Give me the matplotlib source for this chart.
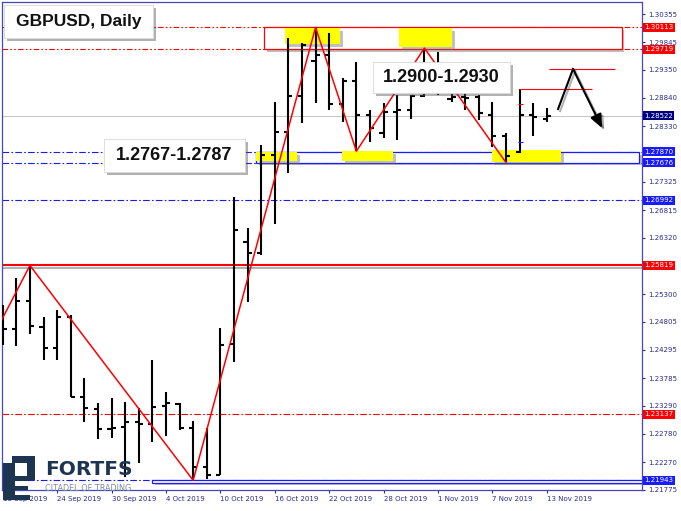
import matplotlib
matplotlib.use('Agg')
import matplotlib.pyplot as plt
import matplotlib.patheffects as pe
import matplotlib.transforms as mtransforms
from matplotlib.patches import Rectangle

# GBPUSD diario, 18 Sep 2019 - 13 Nov 2019 (una barra por dia habil)
opens = [1.24799, 1.24672, 1.25178, 1.24709, 1.24330, 1.24889, 1.23446, 1.23229, 1.22868, 1.22905,
         1.22995, 1.22959, 1.23283, 1.23319, 1.22886, 1.22183, 1.22039, 1.24402, 1.26242, 1.26043,
         1.27811, 1.28226, 1.28876, 1.29507, 1.29615, 1.28731, 1.29146, 1.28533, 1.28208, 1.28587,
         1.28623, 1.28870, 1.29200, 1.28822, 1.28858, 1.28858, 1.28533, 1.28154, 1.27866, 1.28533,
         1.28461]
highs = [1.25105, 1.25592, 1.25819, 1.24889, 1.25015, 1.24925, 1.23788, 1.23337, 1.23428, 1.23356,
         1.23247, 1.24113, 1.23536, 1.23337, 1.23013, 1.22886, 1.24690, 1.27054, 1.26494, 1.27992,
         1.28768, 1.29922, 1.29832, 1.30113, 1.30012, 1.29200, 1.29489, 1.28623, 1.28749, 1.28894,
         1.28900, 1.29706, 1.29670, 1.29000, 1.28930, 1.28894, 1.28768, 1.28208, 1.29002, 1.28749,
         1.28659]
lows = [1.24384, 1.24366, 1.24582, 1.24113, 1.24113, 1.23446, 1.22995, 1.22688, 1.22706, 1.22003,
        1.22255, 1.22634, 1.22742, 1.22850, 1.21943, 1.21960, 1.22030, 1.24077, 1.25160, 1.26007,
        1.26567, 1.27487, 1.28389, 1.28749, 1.28623, 1.28407, 1.27890, 1.28046, 1.28118, 1.28082,
        1.28461, 1.28860, 1.28900, 1.28768, 1.28623, 1.28443, 1.27956, 1.27685, 1.27847, 1.28154,
        1.28407]
closes = [1.24672, 1.25178, 1.24727, 1.24330, 1.24889, 1.23446, 1.23247, 1.22868, 1.22886, 1.22995,
          1.22959, 1.23265, 1.23337, 1.22886, 1.22183, 1.22030, 1.24384, 1.26458, 1.26043, 1.27811,
          1.28226, 1.28876, 1.29800, 1.29615, 1.28731, 1.29146, 1.28533, 1.28298, 1.28587, 1.28623,
          1.28870, 1.29200, 1.29000, 1.28858, 1.28840, 1.28569, 1.28154, 1.27793, 1.28533, 1.28497,
          1.28522]

date_ticks = list(range(0, 41, 4))
date_labels = ['18 Sep 2019', '24 Sep 2019', '30 Sep 2019', '4 Oct 2019', '10 Oct 2019',
               '16 Oct 2019', '22 Oct 2019', '28 Oct 2019', '1 Nov 2019', '7 Nov 2019', '13 Nov 2019']

price_ticks = [1.30355, 1.29845, 1.29350, 1.28840, 1.28330, 1.27820, 1.27325, 1.26815, 1.26320,
               1.25810, 1.25300, 1.24805, 1.24295, 1.23785, 1.23290, 1.22780, 1.22270, 1.21775]
# etiquetas tapadas por las cajas de nivel en el original
hidden_ticks = [1.27820, 1.25810]

# niveles marcados en el eje
red_levels = [1.30113, 1.29719, 1.25819, 1.23137]
blue_levels = [1.27870, 1.27676, 1.26992, 1.21943]
bid = 1.28522

# zigzag (barra, precio)
zz_bar = [-0.5, 2, 14, 23, 26, 31, 37]
zz_price = [1.24637, 1.25819, 1.21943, 1.30113, 1.27880, 1.29740, 1.27676]

# proyeccion
target_levels = [1.29360, 1.29000]
arrow_bar = [40.83, 41.93, 44.07]
arrow_price = [1.28641, 1.29363, 1.28299]

W, H = 681, 511
NAVY = '#2b2b8c'
RED = '#ff0000'
BLUE = '#1a1aff'

fig = plt.figure(figsize=(W / 100, H / 100), dpi=100)
ax = fig.add_axes([1.5 / W, (H - 490) / H, (642 - 1.5) / W, (490 - 2) / H])
ax.set_xlim(-0.09, 47.0)
ax.set_ylim(1.21768, 1.305715)

for s in ax.spines.values():
    s.set_color('#4646c0')
    s.set_linewidth(0.9)

ax.set_xticks(date_ticks)
ax.set_xticklabels(date_labels)
plt.setp(ax.get_xticklabels(), ha='left')
ax.set_yticks(price_ticks)
ax.set_yticklabels(['' if p in hidden_ticks else f'{p:.5f}' for p in price_ticks])
ax.yaxis.tick_right()
ax.tick_params(axis='both', length=2.5, color=NAVY, labelcolor=NAVY, labelsize=5, pad=2)

line_shadow = [pe.SimpleLineShadow(offset=(1.5, -1.5), alpha=0.3), pe.Normal()]
patch_shadow = [pe.SimplePatchShadow(offset=(2, -2), shadow_rgbFace='#666666', alpha=0.4), pe.Normal()]

# lineas horizontales
ax.axhline(bid, color='#c4c4c4', lw=0.7, zorder=1)
ax.axhline(1.25819, color=RED, lw=1.5, zorder=2, path_effects=line_shadow)
ax.axhline(1.23137, color=RED, lw=0.8, ls=(0, (6, 2, 1.5, 2)), zorder=1)
for lv in [1.30113, 1.29719]:
    ax.axhline(lv, color=RED, lw=0.8, ls=(0, (5, 2, 1.5, 2, 1.5, 2)), zorder=1)
for lv in [1.27870, 1.27676, 1.26992, 1.21943]:
    ax.axhline(lv, color=BLUE, lw=0.8, ls=(0, (6, 2, 1.5, 2)), zorder=1)

# zonas
ax.add_patch(Rectangle((19.21, 1.29719), 45.5 - 19.21, 1.30113 - 1.29719, fc='white', ec=RED,
                       lw=0.9, zorder=1.5, path_effects=patch_shadow))
ax.add_patch(Rectangle((18.63, 1.27676), 46.8 - 18.63, 1.27870 - 1.27676, fc='white', ec=BLUE,
                       lw=0.9, zorder=1.5, path_effects=patch_shadow))
ax.add_patch(Rectangle((10.98, 1.21902), 48 - 10.98, 1.21943 - 1.21902, fc='white', ec=BLUE,
                       lw=0.9, zorder=1.5, path_effects=patch_shadow))

yellow = [(20.76, 24.80, 1.29815, 1.30100), (29.14, 33.04, 1.29760, 1.30103),
          (24.95, 28.70, 1.27703, 1.27884), (35.98, 41.05, 1.27685, 1.27902),
          (18.63, 21.64, 1.27703, 1.27866)]
for x0, x1, y0, y1 in yellow:
    ax.add_patch(Rectangle((x0, y0), x1 - x0, y1 - y0, fc='#ffff00', ec='none', zorder=2,
                           path_effects=patch_shadow))

# barras OHLC
idx = list(range(len(opens)))
ax.vlines(idx, lows, highs, color='black', lw=1.5, zorder=3)
ax.hlines(opens, [i - 0.3 for i in idx], idx, color='black', lw=1.5, zorder=3)
ax.hlines(closes, idx, [i + 0.3 for i in idx], color='black', lw=1.5, zorder=3)
ax.hlines(1.28731, 37.85, 38.25, color=RED, lw=0.8, zorder=3)
ax.hlines(1.28046, 37.85, 38.25, color=BLUE, lw=0.8, zorder=3)

ax.plot(zz_bar, zz_price, color=RED, lw=1.1, zorder=4)

# proyeccion
ax.hlines(target_levels[0], 40.17, 45.0, color=RED, lw=0.8, zorder=4)
ax.hlines(target_levels[1], 37.96, 43.33, color=RED, lw=0.8, zorder=4)
ax.plot(arrow_bar[:2], arrow_price[:2], color='black', lw=1.5, zorder=4, path_effects=line_shadow)
ax.annotate('', xy=(arrow_bar[2], arrow_price[2]), xytext=(arrow_bar[1], arrow_price[1]),
            arrowprops=dict(arrowstyle='-|>,head_length=0.8,head_width=0.35', color='black', lw=1.5,
                            shrinkA=0, shrinkB=0, path_effects=line_shadow), zorder=4)

# etiquetas de precio en el eje
trans = mtransforms.blended_transform_factory(ax.transAxes, ax.transData)
labels = [(p, RED) for p in red_levels] + [(p, BLUE) for p in blue_levels] + [(bid, '#000080')]
for p, c in labels:
    ax.text(1.0035, p, f'{p:.5f}', transform=trans, ha='left', va='center', fontsize=5,
            color='white', clip_on=False, zorder=6,
            bbox=dict(boxstyle='square,pad=0.2', fc=c, ec='none'))


def text_box(x0, y0, x1, y1, txt, size):
    r = Rectangle((x0 / W, 1 - y1 / H), (x1 - x0) / W, (y1 - y0) / H, transform=fig.transFigure,
                  fc='white', ec='#d8d8d8', lw=0.6, zorder=5,
                  path_effects=[pe.SimplePatchShadow(offset=(2.5, -2.5), shadow_rgbFace='#555555', alpha=0.45),
                                pe.Normal()])
    fig.add_artist(r)
    fig.text((x0 + x1) / 2 / W, 1 - (y0 + y1) / 2 / H, txt, ha='center', va='center', fontsize=size,
             fontweight='bold', family='Liberation Sans', color='#111111', zorder=6)


text_box(4, 5, 153, 38, 'GBPUSD, Daily', 12.5)
text_box(373, 62, 510, 93, '1.2900-1.2930', 13)
text_box(104, 139, 245, 172, '1.2767-1.2787', 13)

# logo
LOGO = '#1d3551'
for x0, y0, x1, y1 in [(3, 463, 15, 500), (12, 456, 35, 463), (27, 456, 35, 480),
                       (15, 476, 30, 481), (15, 486, 28, 490), (15, 495, 30, 500)]:
    fig.add_artist(Rectangle((x0 / W, 1 - y1 / H), (x1 - x0) / W, (y1 - y0) / H,
                             transform=fig.transFigure, fc=LOGO, ec='none', zorder=5))
fig.text(45 / W, 1 - 475 / H, 'FORTFS', ha='left', va='baseline', fontsize=14.5, fontweight='bold',
         family='DejaVu Sans', color=LOGO, zorder=6)
fig.text(45 / W, 1 - 491 / H, 'CITADEL OF TRADING', ha='left', va='baseline', fontsize=5.9,
         family='DejaVu Sans', color='#7f8c99', zorder=6)

fig.savefig('out.png', dpi=100)
